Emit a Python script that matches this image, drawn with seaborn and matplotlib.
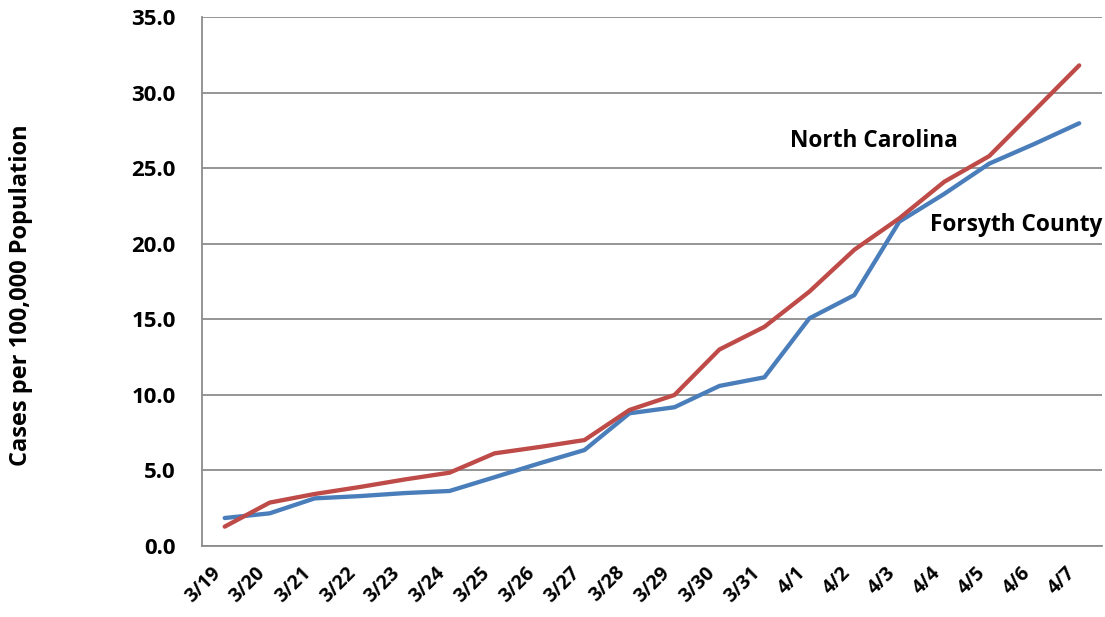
import numpy as np
import pandas as pd
import matplotlib
matplotlib.use('Agg')
import matplotlib.pyplot as plt
import seaborn as sns

# data
dates = ['3/19', '3/20', '3/21', '3/22', '3/23', '3/24', '3/25', '3/26', '3/27', '3/28',
         '3/29', '3/30', '3/31', '4/1', '4/2', '4/3', '4/4', '4/5', '4/6', '4/7']
forsyth = [1.85, 2.16, 3.15, 3.3, 3.5, 3.64, 4.55, 5.47, 6.35, 8.78,
           9.18, 10.59, 11.16, 15.06, 16.6, 21.46, 23.3, 25.3, 26.6, 27.97]
north_carolina = [1.28, 2.87, 3.44, 3.9, 4.4, 4.85, 6.13, 6.55, 7.01, 9.0,
                  9.99, 13.0, 14.5, 16.83, 19.6, 21.68, 24.1, 25.8, 28.8, 31.8]

df = pd.DataFrame({'date': dates * 2,
                   'cases': forsyth + north_carolina,
                   'area': ['Forsyth County'] * len(dates) + ['North Carolina'] * len(dates)})

sns.set_style('white')
plt.rcParams['font.family'] = ['Open Sans', 'DejaVu Sans']
plt.rcParams['text.color'] = 'black'
plt.rcParams['axes.labelcolor'] = 'black'
plt.rcParams['xtick.labelcolor'] = 'black'
plt.rcParams['ytick.labelcolor'] = 'black'

fig = plt.figure(figsize=(11.05, 6.17), dpi=100)
ax = fig.add_axes([0.183, 0.1151, 0.814, 0.8573])

sns.lineplot(data=df, x='date', y='cases', hue='area',
             palette={'Forsyth County': '#4a7ebb', 'North Carolina': '#be4b48'},
             linewidth=3.1, legend=False, ax=ax, sort=False)

ax.set_xlim(-0.5, len(dates) - 0.5)
ax.set_ylim(0, 35)
ax.set_yticks(np.arange(0, 35.1, 5))
ax.set_yticklabels(['%.1f' % v for v in np.arange(0, 35.1, 5)], fontsize=16, fontweight='bold')
ax.set_xticks(range(len(dates)))
ax.set_xticklabels(dates, rotation=45, fontsize=14, fontweight='bold', ha='right')
ax.tick_params(axis='y', length=4, color='#8c8c8c', pad=15)
ax.tick_params(axis='x', length=0, pad=12)

ax.yaxis.grid(True, color='#8c8c8c', linewidth=1.3)
ax.set_axisbelow(True)
for s in ['top', 'right']:
    ax.spines[s].set_visible(False)
for s in ['left', 'bottom']:
    ax.spines[s].set_color('#8c8c8c')
    ax.spines[s].set_linewidth(1.3)

ax.set_xlabel('')
ax.set_ylabel('Cases per 100,000 Population', fontsize=17, fontweight='bold', va='center')
ax.yaxis.set_label_coords(-0.202, 0.474)

ax.text(14.44, 26.8, 'North Carolina', fontsize=16.3, fontweight='bold', ha='center', va='center')
ax.text(17.59, 21.24, 'Forsyth County', fontsize=16.3, fontweight='bold', ha='center', va='center')

fig.savefig('out.png', dpi=100)
